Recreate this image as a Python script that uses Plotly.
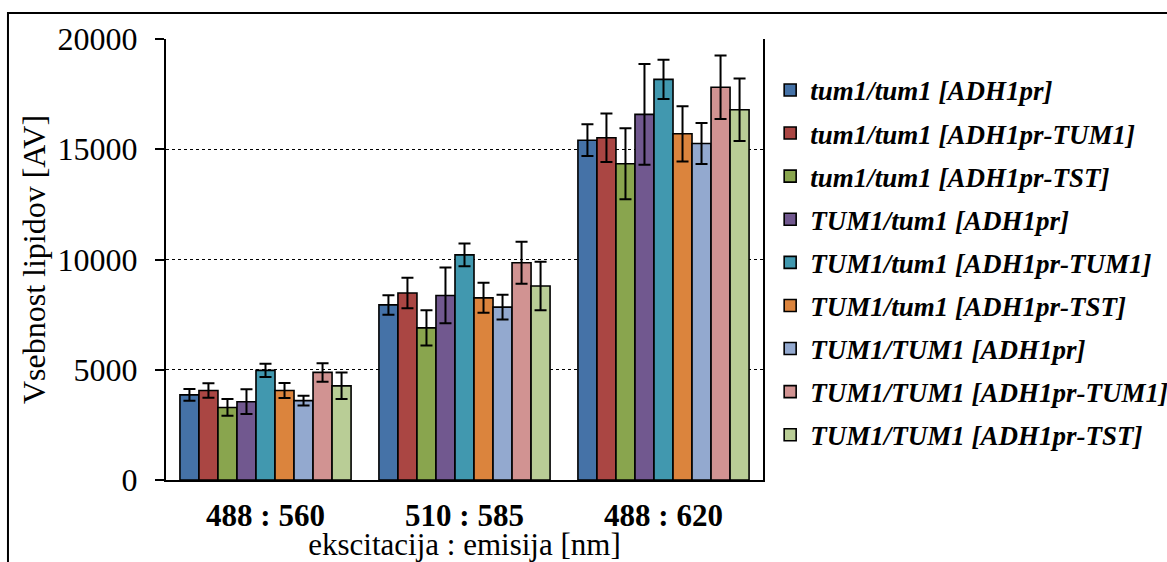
import plotly.graph_objects as go

categories = ["488 : 560", "510 : 585", "488 : 620"]

series_names = [
    "tum1/tum1 [ADH1pr]",
    "tum1/tum1 [ADH1pr-TUM1]",
    "tum1/tum1 [ADH1pr-TST]",
    "TUM1/tum1 [ADH1pr]",
    "TUM1/tum1 [ADH1pr-TUM1]",
    "TUM1/tum1 [ADH1pr-TST]",
    "TUM1/TUM1 [ADH1pr]",
    "TUM1/TUM1 [ADH1pr-TUM1]",
    "TUM1/TUM1 [ADH1pr-TST]",
]

s1_vals = [3860, 7940, 15410]
s2_vals = [4060, 8480, 15520]
s3_vals = [3290, 6900, 14340]
s4_vals = [3550, 8370, 16580]
s5_vals = [4970, 10210, 18170]
s6_vals = [4060, 8260, 15700]
s7_vals = [3600, 7840, 15260]
s8_vals = [4880, 9850, 17810]
s9_vals = [4270, 8800, 16790]

s1_err = [270, 440, 720]
s2_err = [330, 690, 1100]
s3_err = [380, 800, 1610]
s4_err = [560, 1265, 2285]
s5_err = [300, 520, 890]
s6_err = [340, 680, 1250]
s7_err = [220, 556, 925]
s8_err = [420, 950, 1440]
s9_err = [600, 1100, 1420]

values = [s1_vals, s2_vals, s3_vals, s4_vals, s5_vals, s6_vals, s7_vals, s8_vals, s9_vals]
errors = [s1_err, s2_err, s3_err, s4_err, s5_err, s6_err, s7_err, s8_err, s9_err]

colors = ["#4572A7", "#AA4643", "#89A54E", "#71588F", "#4198AF",
          "#DB843D", "#93A9CF", "#D19392", "#B9CD96"]

y_ticks = [0, 5000, 10000, 15000, 20000]

fig = go.Figure()
for i, name in enumerate(series_names):
    fig.add_trace(go.Bar(
        x=categories, y=values[i], name=name,
        legendgroup=f"g{i}",
        marker=dict(color=colors[i], line=dict(color="black", width=1.6)),
        error_y=dict(type="data", array=errors[i], visible=True,
                     color="black", thickness=2, width=6),
    ))

serif = "Liberation Serif"

fig.update_layout(
    width=1167, height=562,
    margin=dict(l=166, r=404, t=39, b=82, autoexpand=False),
    paper_bgcolor="white", plot_bgcolor="white",
    barmode="group", bargap=0.14, bargroupgap=0,
    showlegend=True,
    legend=dict(
        x=1.012, y=0.939, xanchor="left", yanchor="top",
        font=dict(family=serif, size=27, color="black", weight="bold", style="italic"),
        traceorder="grouped", tracegroupgap=5,
        bgcolor="rgba(0,0,0,0)", itemwidth=30,
    ),
    font=dict(family=serif, color="black"),
    xaxis=dict(
        showline=True, linecolor="black", linewidth=2, automargin=False,
        ticks="", tickfont=dict(family=serif, size=31, color="black", weight="bold"),
        ticklabelstandoff=7,
        title=dict(text="ekscitacija : emisija [nm]",
                   font=dict(family=serif, size=31, color="black"), standoff=0),
    ),
    yaxis=dict(
        range=[0, 20000], tickvals=y_ticks, ticktext=[str(v) for v in y_ticks],
        showline=True, linecolor="black", linewidth=2, mirror=True, automargin=False,
        ticks="outside", ticklen=9, tickwidth=2, tickcolor="black",
        tickfont=dict(family=serif, size=32, color="black"),
        ticklabelstandoff=11,
        showgrid=True, gridcolor="black", griddash="dot", gridwidth=1,
        zeroline=False,
        title=dict(text="Vsebnost lipidov [AV]",
                   font=dict(family=serif, size=32, color="black"), standoff=2),
    ),
    shapes=[dict(type="rect", xref="paper", yref="paper",
                 x0=-0.2647, x1=1.8, y0=-0.5, y1=1.059,
                 line=dict(color="black", width=2), fillcolor="rgba(0,0,0,0)",
                 layer="below")],
)

fig.write_html("out.html")
